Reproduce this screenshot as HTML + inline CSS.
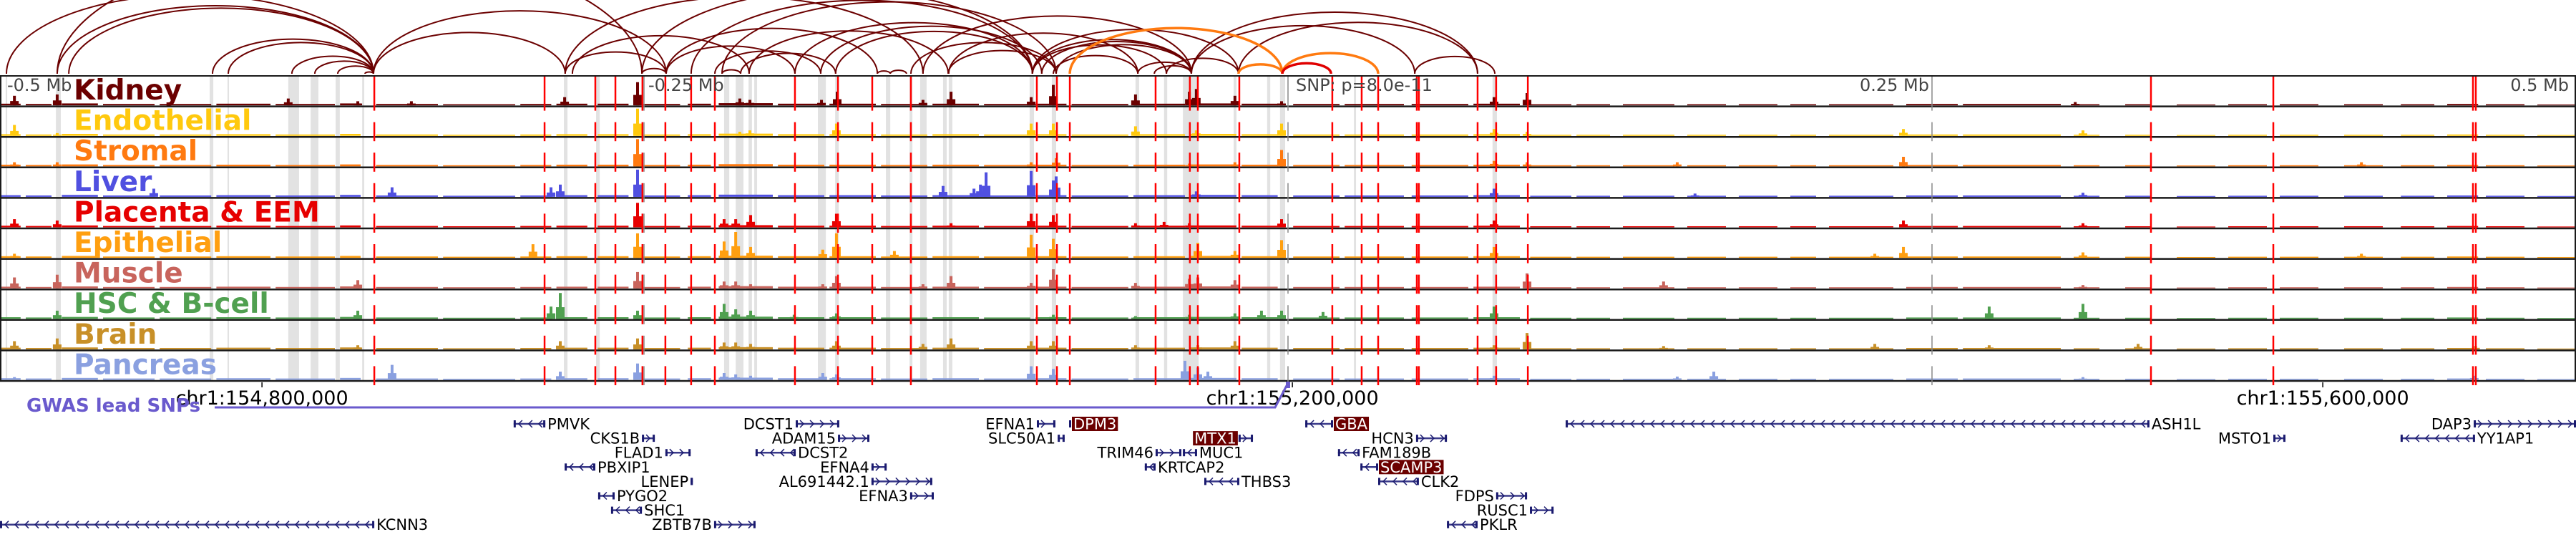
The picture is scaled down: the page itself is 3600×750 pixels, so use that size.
<!DOCTYPE html>
<html><head><meta charset="utf-8"><style>
html,body{margin:0;padding:0;background:#fff;}
svg{display:block;}
text{font-family:"DejaVu Sans","Liberation Sans",sans-serif;}
</style></head><body>
<svg id="chart" width="3600" height="750" viewBox="0 0 3600 750" xmlns="http://www.w3.org/2000/svg">
<g id="arcs"></g>
<g id="bands"></g>
<g id="tracks"></g>
<g id="vlines"></g>
<g id="labels"></g>
<g id="axis"></g>
<g id="genes"></g>
</svg>
<script>
// ---- data (positions in kb relative to lead SNP) ----
const trackNames = ["Kidney","Endothelial","Stromal","Liver","Placenta & EEM","Epithelial","Muscle","HSC & B-cell","Brain","Pancreas"];
const trackColors = ["#6b0000","#ffc90e","#ff7a10","#5050e0","#e60000","#ff9f10","#c8645c","#50a050","#c89028","#8aa0e0"];
const snpLinesKb = [-354.7,-288.6,-268.9,-261.1,-250.6,-241.7,-231.7,-222.5,-191.4,-174.7,-161.4,-146.4,-97.5,-89.7,-84.7,-51.4,-38.1,-35,-18.9,17.2,28.6,35,50,50.8,73.6,80.8,93.1,335,382.5,460,461.1];
const grayBandsKb = [[-497.8,-497.2],[-478.3,-476.4],[-418.6,-417.2],[-411.7,-411.1],[-388.1,-383.9],[-379.4,-376.4],[-369.7,-368.1],[-359.4,-358.6],[-281.1,-279.7],[-268.6,-267.2],[-218.9,-216.9],[-214.4,-211.4],[-209.4,-208.1],[-207.2,-206.1],[-182.5,-179.4],[-175.8,-174.4],[-156.1,-154.4],[-146.9,-145.8],[-142.8,-140.3],[-133.9,-132.5],[-131.7,-130.3],[-100.3,-98.6],[-91.7,-90],[-59.2,-57.8],[-48.1,-46.9],[-40.8,-34.7],[-21.1,-20],[-8.1,-6.9],[-3.1,-1.1],[25.6,26.4],[79.4,81.1]];
const mbTicksKb = [-500,-250,0,250,500];
const mbTickLabels = ["-0.5 Mb","-0.25 Mb","SNP: p=8.0e-11","0.25 Mb","0.5 Mb"];
const darkArcs = [[-497.5,-355],[-477.8,-355],[-473.3,-355],[-477.8,-250.8],[-417.5,-355],[-411.4,-355],[-386.7,-355],[-377.8,-355],[-368.9,-355],[-358.3,-355],[-355,-280.6],[-280.6,-241.4],[-250.8,-241.4],[-241.4,-191.4],[-241.4,-159.4],[-280.6,-141.7],[-277.8,-209.2],[-231.7,-99.2],[-222.5,-181.4],[-219.7,-212.5],[-212.5,-175.6],[-209.2,-131.9],[-191.4,-99.2],[-181.4,-95.6],[-175.6,-99.2],[-159.4,-154.4],[-154.4,-148.1],[-146.4,-90],[-141.7,-37.5],[-131.9,-90],[-99.2,-37.5],[-95.6,-37.5],[-90,-37.5],[-91.1,-58.3],[-58.3,-37.5],[-51.9,-37.5],[-47.2,-19.2],[-37.5,49.2],[-19.2,73.6],[49.2,80.3],[-99.2,-47.2],[-131.7,-58.3],[-355,-241.4],[-250.8,-99.2],[-219.7,-90],[-99.2,-19.2],[-37.5,73.6]];
const orangeArcs = [[-84.7,-2.2],[-19.2,-2.2],[-2.2,35]];
const redArcs = [[-2.2,16.7]];
const bgSegments = [[-500,-492,.06],[-490,-480,.05],[-476,-462,.07],[-460,-440,.05],[-438,-418,.05],[-416,-395,.06],[-393,-370,.05],[-368,-360,.07],[-354,-330,.05],[-328,-300,.04],[-298,-286,.05],[-284,-272,.06],[-268,-256,.06],[-254,-236,.05],[-233,-224,.06],[-221,-200,.08],[-198,-180,.06],[-178,-160,.06],[-158,-140,.05],[-138,-120,.06],[-118,-100,.05],[-98,-86,.06],[-84,-62,.05],[-60,-40,.06],[-38,-20,.07],[-18,-4,.06],[2,20,.05],[22,45,.05],[48,70,.05],[72,90,.06],[94,110,.04],[112,125,.04],[130,150,.04],[155,170,.04],[175,190,.04],[195,205,.04],[210,235,.04],[240,260,.05],[262,300,.05],[305,315,.04],[325,335,.04],[345,360,.03],[365,380,.04],[385,400,.04],[410,425,.04],[432,445,.04],[450,462,.05],[465,480,.04],[485,500,.03]];
// peaks per track: [kb, height fraction]
const kidneyPeaks = [[-494.4,.35],[-477.8,.4],[-388.1,.25],[-361.1,.15],[-340.3,.15],[-280.8,.3],[-252.5,.85],[-212.8,.25],[-208.9,.2],[-181.1,.2],[-175,.5],[-141.7,.2],[-130.8,.5],[-99.7,.3],[-91.1,.75],[-59.2,.4],[-38.3,.5],[-35.6,.6],[-20.6,.35],[-2.5,.15],[80,.3],[92.8,.45],[305.6,.12]];
const endoPeaks = [[-494.4,.4],[-477.8,.1],[-252.5,1],[-212.8,.15],[-208.9,.2],[-175.3,.45],[-99.7,.45],[-91.1,.45],[-59.2,.35],[-35.6,.2],[-2.5,.45],[80,.25],[92.8,.15],[238.9,.25],[308.6,.2]];
const stromalPeaks = [[-494.4,.15],[-477.8,.15],[-252.5,1],[-99.7,.15],[-90,.3],[-38.3,.1],[-20.6,.15],[-2.5,.6],[80,.2],[92.8,.15],[151.1,.15],[238.9,.35],[416.7,.15]];
const liverPeaks = [[-440.3,.3],[-347.8,.35],[-286.1,.35],[-282.5,.45],[-252.5,1],[-133.9,.4],[-121.9,.3],[-119.4,.45],[-117.2,.9],[-99.7,.95],[-91.1,.6],[-90,.75],[-35.6,.2],[80,.3],[158,.12],[308.6,.15]];
const placentaPeaks = [[-494.4,.3],[-477.8,.25],[-252.5,.9],[-218.9,.3],[-214.4,.3],[-208.6,.45],[-175.3,.5],[-130.8,.15],[-99.7,.5],[-91.1,.45],[-59.2,.15],[-48.1,.2],[-38.3,.15],[-2.5,.3],[80,.25],[238.9,.25],[308.6,.15]];
const epiPeaks = [[-494.4,.15],[-293.1,.5],[-252.5,.9],[-218.9,.6],[-214.4,.95],[-208.6,.4],[-180.6,.3],[-175.3,.9],[-152.8,.25],[-99.7,.85],[-91.1,.7],[-35,.55],[-20.6,.25],[-2.5,.65],[80,.4],[227.8,.15],[238.9,.4],[308.6,.2],[416.7,.15]];
const musclePeaks = [[-494.4,.4],[-477.8,.5],[-361.1,.3],[-252.5,.6],[-218.9,.25],[-214.4,.25],[-208.6,.15],[-180.6,.15],[-175.3,.45],[-141.7,.15],[-130.8,.45],[-99.7,.2],[-91.1,.7],[-59.2,.2],[-38.3,.35],[-35,.4],[-20.6,.3],[92.8,.55],[145.8,.25],[308.6,.12]];
const hscPeaks = [[-477.8,.3],[-361.1,.3],[-286.1,.45],[-282.5,.95],[-252.5,.3],[-218.9,.55],[-214.4,.35],[-208.6,.3],[-191.7,.15],[-175.3,.2],[-91.1,.15],[-59.2,.1],[-38.3,.15],[-20.6,.2],[-10.3,.3],[-2.5,.3],[13.6,.25],[80,.45],[272.2,.45],[308.6,.55]];
const brainPeaks = [[-494.4,.3],[-477.8,.4],[-361.1,.15],[-282.5,.3],[-252.5,.4],[-218.9,.25],[-214.4,.25],[-208.6,.2],[-175.3,.3],[-141.7,.2],[-130.8,.4],[-99.7,.3],[-91.1,.3],[-59.2,.15],[-35,.15],[-20.6,.3],[80,.15],[92.8,.6],[145.8,.12],[227.8,.2],[272.2,.15],[330,.2],[461,.12]];
const pancPeaks = [[-494.4,.1],[-347.8,.55],[-282.5,.3],[-252.5,.6],[-218.9,.25],[-214.4,.2],[-208.6,.15],[-180.6,.25],[-175.3,.2],[-99.7,.5],[-91.1,.4],[-40,.7],[-35,.45],[-31.1,.3],[80,.15],[151.1,.12],[165.3,.3],[308.6,.1],[460.5,.15]];
const allPeaks = [kidneyPeaks,endoPeaks,stromalPeaks,liverPeaks,placentaPeaks,epiPeaks,musclePeaks,hscPeaks,brainPeaks,pancPeaks];
const chrTickKb = [154800,155200,155600];
const chrTickLabels = ["chr1:154,800,000","chr1:155,200,000","chr1:155,600,000"];
const snpPosKb = 155198.3;
// genes: name, startKb, endKb, row, strand, labelSide, highlight
const geneNames = ["PMVK","CKS1B","FLAD1","PBXIP1","LENEP","PYGO2","SHC1","ZBTB7B","KCNN3","DCST1","ADAM15","DCST2","EFNA4","AL691442.1","EFNA3","EFNA1","DPM3","SLC50A1","MTX1","TRIM46","MUC1","KRTCAP2","THBS3","GBA","HCN3","FAM189B","SCAMP3","CLK2","FDPS","RUSC1","PKLR","ASH1L","MSTO1","DAP3","YY1AP1"];
const geneStart = [-300.6,-250.8,-241.7,-280.8,-231.9,-267.8,-262.8,-222.8,-500,-191.1,-174.7,-206.7,-161.7,-161.7,-146.7,-97.5,-85,-89.4,-19.2,-51.4,-40.8,-55.6,-32.5,6.7,49.7,19.4,28.1,35,80.8,93.9,61.7,107.8,382.5,460.3,431.9];
const geneEnd = [-288.3,-245.8,-231.9,-268.9,-231.4,-261.4,-250.8,-206.7,-354.7,-174.2,-162.5,-191.1,-155.8,-138.1,-137.5,-90.3,-84.4,-86.7,-13.6,-41.4,-35.3,-51.4,-18.9,17.5,61.7,27.8,35,50.8,92.8,103.1,73.6,334.4,387.2,500,460.8];
const geneRow = [0,1,2,3,4,5,6,7,7,0,1,2,3,4,5,0,0,1,1,2,2,3,4,0,1,2,3,4,5,6,7,0,1,0,1];
const geneStrand = ["<",">",">","<",">","<","<",">","<",">",">","<",">",">",">",">",">",">",">",">","<","<","<","<",">","<","<","<",">",">","<","<",">",">","<"];
const geneSide = ["R","L","L","R","L","R","R","L","R","L","L","R","L","L","L","L","R","L","L","L","R","R","R","R","L","R","R","R","L","L","R","R","L","L","R"];
const geneHighlight = [0,0,0,0,0,0,0,0,0,0,0,0,0,0,0,0,1,0,1,0,0,0,0,1,0,0,1,0,0,0,0,0,0,0,0];

// ---- scales ----
const NS="http://www.w3.org/2000/svg";
const X = kb => 1800 + kb*3.6;
const TRACK_TOP = 106, TRACK_H = 42.6, BAR_MAX = 38;
const trackTop = i => TRACK_TOP + i*TRACK_H;
const trackBottom = i => TRACK_TOP + (i+1)*TRACK_H;
const chrX = kb => X(kb - snpPosKb);
function mk(tag, attrs, parent){const e=document.createElementNS(NS,tag);for(const k in attrs)e.setAttribute(k,attrs[k]);parent.appendChild(e);return e;}
const gArcs=document.getElementById('arcs'),gBands=document.getElementById('bands'),gTracks=document.getElementById('tracks'),gV=document.getElementById('vlines'),gL=document.getElementById('labels'),gAxis=document.getElementById('axis'),gGenes=document.getElementById('genes');

// arcs
function drawArcs(list,color,w,name){
  list.forEach(a=>{
    const x1=X(a[0]),x2=X(a[1]);const rx=(x2-x1)/2,ry=(x2-x1)*0.215;
    const p=mk('path',{d:`M${x1},103 A${rx},${ry} 0 0 1 ${x2},103`,fill:'none',stroke:color,'stroke-width':w},gArcs);
    
    
  });
}
drawArcs(darkArcs,'#6b0000',2,'loop-arc');
drawArcs(orangeArcs,'#ff7a10',3.5,'loop-arc-highlight');
drawArcs(redArcs,'#e00000',3.5,'loop-arc-red');

// gray bands
grayBandsKb.forEach(b=>{
  const r=mk('rect',{x:X(b[0]),y:TRACK_TOP,width:Math.max(2,X(b[1])-X(b[0])),height:TRACK_H*10,fill:'#e2e2e2'},gBands);
  
  
});

// tracks
trackNames.forEach((nm,i)=>{
  const g=mk('g',{},gTracks);
  
  
  const base=trackBottom(i)-1.5, col=trackColors[i];
  bgSegments.forEach(s=>{
    const r=mk('rect',{x:X(s[0]),y:base-s[2]*BAR_MAX,width:X(s[1])-X(s[0]),height:s[2]*BAR_MAX,fill:col},g);
    
    
  });
  allPeaks[i].forEach(p=>{
    const h=p[1]*BAR_MAX, x=X(p[0]);
    const sh=mk('rect',{x:x-6,y:base-h*0.45,width:12,height:h*0.45,fill:col},g);
    
    
    const r=mk('rect',{x:x-2,y:base-h,width:4,height:h,fill:col},g);
    
    
  });
  const ln=mk('line',{x1:0,x2:3600,y1:trackBottom(i),y2:trackBottom(i),stroke:'#1a1a1a','stroke-width':2.5},g);
  
  
});
// frame
const fr=mk('rect',{x:1,y:TRACK_TOP,width:3598,height:TRACK_H*10,fill:'none',stroke:'#1a1a1a','stroke-width':2},gTracks);



// vertical snp lines & ticks
function vdash(x,color,w,name){
  for(let i=0;i<10;i++){
    const y1 = i===0 ? TRACK_TOP+1 : trackTop(i)+22;
    const l=mk('line',{x1:x,x2:x,y1:y1,y2:trackBottom(i)+6,stroke:color,'stroke-width':w},gV);
    
    
  }
}
mbTicksKb.forEach(k=>{ if(k>-500&&k<500) vdash(X(k),'#888',1.5,'mb-tick-line'); });
snpLinesKb.forEach(k=>vdash(X(k),'#ff0000',2.5,'snp-line'));

// mb labels
mbTicksKb.forEach((k,i)=>{
  const x=X(k); let anchor='start', tx=x+6;
  if(k>0){anchor='end';tx=x-4;}
  if(k===-500) tx=10;
  if(k===500) tx=3590;
  if(k===0) tx=x+11;
  const t=mk('text',{x:tx,y:127,'font-size':24,fill:'#444','text-anchor':anchor},gL);
  t.textContent=mbTickLabels[i];
  
  
});
// track labels
trackNames.forEach((nm,i)=>{
  const t=mk('text',{x:103,y:trackTop(i)+33,'font-size':39,'font-weight':'bold',fill:trackColors[i]},gL);
  t.textContent=nm;
  
  
});

// chr axis
chrTickKb.forEach((k,i)=>{
  const x=chrX(k);
  const l=mk('line',{x1:x,x2:x,y1:534,y2:541,stroke:'#000','stroke-width':1.5},gAxis);
  
  
  const t=mk('text',{x:x,y:565,'font-size':27,'text-anchor':'middle',fill:'#000'},gAxis);
  t.textContent=chrTickLabels[i];
  
  
});
// GWAS lead SNPs
const gw=mk('text',{x:37,y:575,'font-size':26,'font-weight':'bold',fill:'#6a5acd'},gAxis);
gw.textContent='GWAS lead SNPs';


const gp=mk('path',{d:`M300,569 L${X(-5)},569 L${X(0)},535`,fill:'none',stroke:'#6a5acd','stroke-width':3},gAxis);


const gr=mk('rect',{x:X(0)-3,y:533,width:6,height:9,fill:'#6a5acd'},gAxis);



// genes
const cv=document.createElement('canvas').getContext('2d');
cv.font='21px "DejaVu Sans"';
geneNames.forEach((nm,i)=>{
  const g=mk('g',{},gGenes);
  
  
  const cy=592+geneRow[i]*20.1, x1=X(geneStart[i]), x2=Math.max(X(geneEnd[i]),x1+3);
  mk('line',{x1:x1,x2:x2,y1:cy,y2:cy,stroke:'#3a3a8a','stroke-width':2.5},g);
  mk('rect',{x:x1,y:cy-5,width:3,height:10,fill:'#1a1a6e'},g);
  mk('rect',{x:x2-3,y:cy-5,width:3,height:10,fill:'#1a1a6e'},g);
  for(let x=x1+9;x<x2-5;x+=14){
    const d=geneStrand[i]==='>'?`M${x-3},${cy-5} L${x+2},${cy} L${x-3},${cy+5}`:`M${x+3},${cy-5} L${x-2},${cy} L${x+3},${cy+5}`;
    mk('path',{d:d,fill:'none',stroke:'#1a1a6e','stroke-width':1.5},g);
  }
  const w=cv.measureText(nm).width;
  const pad = geneHighlight[i]?3:3;
  const tx = geneSide[i]==='R' ? x2+pad : x1-pad-w;
  if(geneHighlight[i]){
    const b=mk('rect',{x:tx-2,y:cy-10,width:w+4,height:20,fill:'#6b0000'},g);
    
    
  }
  const t=mk('text',{x:tx,y:cy+7.5,'font-size':21,fill:geneHighlight[i]?'#fff':'#000'},g);
  t.textContent=nm;
});
</script>
</body></html>
